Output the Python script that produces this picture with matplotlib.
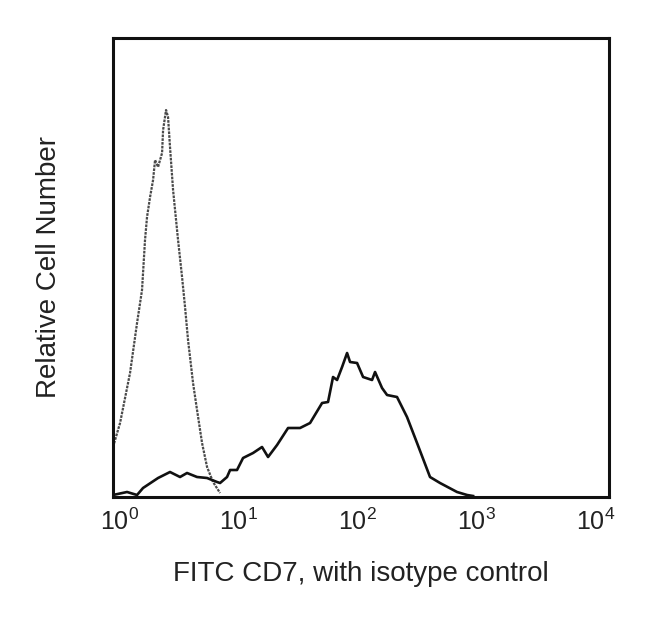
import matplotlib
matplotlib.use("Agg")
import matplotlib.pyplot as plt

plt.rcParams['font.family'] = ['Liberation Sans', 'DejaVu Sans']
plt.rcParams['mathtext.fontset'] = 'custom'
plt.rcParams['mathtext.rm'] = 'Liberation Sans'
plt.rcParams['mathtext.it'] = 'Liberation Sans'

# Isotype control histogram (fluorescence, relative count)
iso_x = [0.881, 1.01, 1.225, 1.403, 1.545, 1.637, 1.702, 1.805, 1.913, 1.988, 2.107,
         2.277, 2.322, 2.459, 2.556, 2.655, 2.817, 3.102, 3.352, 3.551, 3.763, 4.146,
         4.479, 4.935, 5.437, 6.104, 6.994]
iso_y = [50, 74, 124, 174, 207, 257, 280, 300, 317, 337, 330,
         344, 367, 387, 380, 350, 307, 257, 220, 190, 157, 114,
         87, 54, 30, 15, 4]

# FITC CD7 histogram
cd7_x = [0.881, 1.156, 1.403, 1.575, 2.107, 2.655, 3.223, 3.690, 4.479, 5.437, 6.596,
         6.994, 8.004, 8.49, 9.709, 10.91, 13.24, 15.75, 17.70, 21.07, 26.07, 32.87,
         39.90, 50.35, 56.50, 62.23, 67.28, 74.13, 81.66, 86.50, 99.08, 111.3, 132.4,
         140.3, 160.6, 177.0, 214.6, 260.4, 316.2, 406.4, 493.3, 685.4, 832.3, 935.2]
cd7_y = [2, 5, 2, 9, 19, 25, 20, 24, 20, 19, 15,
         14, 20, 27, 27, 39, 44, 50, 40, 52, 69, 69,
         74, 94, 95, 120, 117, 130, 144, 135, 134, 120, 117,
         125, 109, 102, 100, 80, 54, 20, 14, 5, 2, 1]

tick_vals = [1, 10, 100, 1000, 10000]
tick_labels = [r'$\mathregular{10^{0}}$', r'$\mathregular{10^{1}}$', r'$\mathregular{10^{2}}$',
               r'$\mathregular{10^{3}}$', r'$\mathregular{10^{4}}$']

fig = plt.figure(figsize=(6.5, 6.22), dpi=100)
ax = fig.add_axes([113/650, (622-497)/622, 496/650, 459/622])

ax.plot(iso_x, iso_y, color='#4a4a4a', lw=1.6, linestyle=(0, (1.2, 0.5)))
ax.plot(cd7_x, cd7_y, color='#111111', lw=1.9)

ax.set_xscale('log')
ax.set_xlim(10**-0.055, 10**4.113)
ax.set_ylim(0, 459)
ax.set_xticks(tick_vals)
ax.set_xticklabels(tick_labels, fontsize=18, color='#222222')
ax.minorticks_off()
ax.tick_params(axis='x', length=0, pad=8)
ax.set_yticks([])
for s in ax.spines.values():
    s.set_linewidth(2.2)
    s.set_color('#111111')

ax.set_xlabel('FITC CD7, with isotype control', fontsize=20, labelpad=19, color='#222222')
ax.set_ylabel('Relative Cell Number', fontsize=20, labelpad=37, color='#222222')

fig.savefig('out.png', dpi=100)
